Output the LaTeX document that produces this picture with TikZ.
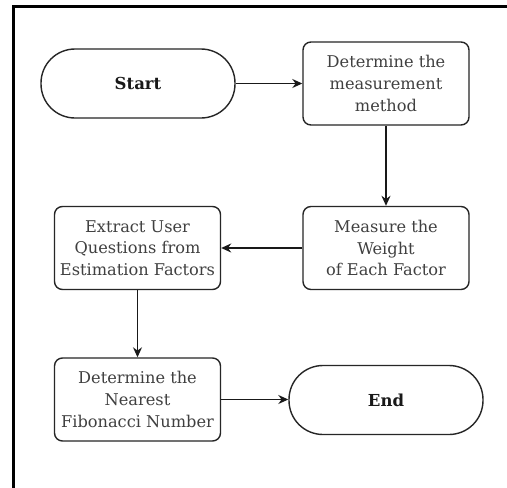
\documentclass[tikz,border=0pt]{standalone}
\usepackage{fontspec}
\setmainfont{DejaVu Serif}
\usetikzlibrary{arrows.meta}
\begin{document}
\begin{tikzpicture}[x=1pt,y=-1pt,
  base/.style={draw=black!85, line width=1.4pt, align=center,
    text=black!75, font=\fontsize{16.2}{21.7}\selectfont, inner sep=0pt},
  procbox/.style={base, rounded corners=8pt, minimum width=166pt, minimum height=83pt},
  terminal/.style={base, rounded corners=34pt, minimum width=194pt, minimum height=69pt,
    text=black!90, font=\fontsize{16.5}{21}\selectfont\bfseries},
  flow/.style={draw=black!90, line width=1.4pt, -{Stealth[length=10pt,width=9pt]}}]
  \useasboundingbox (0,0) rectangle (507,488);
  \fill[white] (0,0) rectangle (507,488);
  % page frame (left and top edges)
  \draw[line width=3pt] (13.5,488) -- (13.5,6) -- (507,6);
  \draw[line width=1.8pt] (12.6,6) -- (507,6);

  \node[terminal] (start) at (138,83.5) {Start};
  \node[procbox] (method) at (386,83.5) {Determine the\\measurement\\method};
  \node[procbox] (weight) at (386,248) {Measure the\\Weight\\of Each Factor};
  \node[procbox] (extract) at (137.5,248) {Extract User\\Questions from\\Estimation Factors};
  \node[procbox] (fib) at (137.5,399.5) {Determine the\\Nearest\\Fibonacci Number};
  \node[terminal] (end) at (386,400) {End};

  \draw[flow] (start) -- (method);
  \draw[flow] (method) -- (weight);
  \draw[flow] (weight) -- (extract);
  \draw[flow] (extract) -- (fib);
  \draw[flow] (fib.east) -- (fib.east -| end.west);
\end{tikzpicture}
\end{document}
